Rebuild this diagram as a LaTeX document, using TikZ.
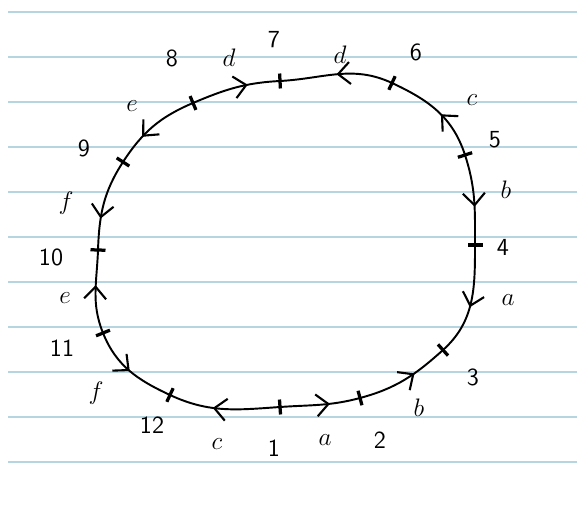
\documentclass[tikz,border=0pt]{standalone}
\usepackage{tikz}
\usetikzlibrary{arrows.meta,decorations.markings}
\definecolor{ruled}{HTML}{B7D5E1}
\tikzset{chev/.tip={Straight Barb[length=2.4mm,width=4.4mm,line width=1.2pt]}}

\begin{document}
\begin{tikzpicture}[x=0.02cm,y=0.02cm,font=\sffamily\fontsize{14}{16}\selectfont,
    loopline/.style={line width=1.1pt,black},
    tick/.style={fill=black,inner sep=0pt,minimum width=0.065cm,minimum height=0.3cm},
    fwd/.style={postaction={decorate,decoration={markings,mark=at position #1 with {\arrow{chev}}}}},
    bwd/.style={postaction={decorate,decoration={markings,mark=at position #1 with {\arrowreversed{chev}}}}}]
        \fill[white] (0,0) rectangle (577,-506);
        \useasboundingbox (0,0) rectangle (577,-506);
        % ruled paper
        \foreach \k in {0,...,10}{\draw[ruled,line width=1.2pt] (8,-12-\k*45) -- (577,-12-\k*45);}
        % vertices as ticks
        \foreach \n/\x/\y/\t in {1/280/407/4,2/360/398/15,3/443/350/42,4/475/245/90,5/465/155/108,6/392/83/155,7/280/81/183,8/193/103/203,9/123/162/237,10/98/250/268,11/103/333/292,12/170/395/335}{\node[tick,rotate=\t] (v\n) at (\x,-\y) {};}
        % edges of the loop
        \foreach \a/\b/\o/\i/\d/\p in {1/2/4/195/fwd/0.62,2/3/15/222/fwd/0.62,3/4/42/270/bwd/0.45,4/5/90/288/bwd/0.42,5/6/108/335/fwd/0.45,6/7/155/3/fwd/0.5,7/8/183/23/bwd/0.36,8/9/203/57/fwd/0.66,9/10/237/88/fwd/0.66,10/11/268/112/bwd/0.42,11/12/292/155/fwd/0.5,12/1/335/184/bwd/0.4}{\draw[loopline,\d=\p] (v\a.center) to[out=\o,in=\i] (v\b.center);}
        % vertex numbers
        \foreach \n/\x/\y in {1/274/448,2/380/440,3/473/377,4/503/247,5/495/140,6/416/52,7/274/40,8/172/58,9/84/148,10/51/257,11/62/348,12/152/425}{\node (n\n) at (\x,-\y) {\n};}
        % edge letters
        \foreach \n/\x/\y/\l in {1/325/440/a,2/419/408/b,3/508/300/a,4/506/190/b,5/472/100/c,6/340/55/d,7/229/58/d,8/132/106/e,9/66/203/f,10/65/298/e,11/96/393/f,12/217/444/c}{\node (l\n) at (\x,-\y) {$\l$};}
      \end{tikzpicture}
\end{document}
